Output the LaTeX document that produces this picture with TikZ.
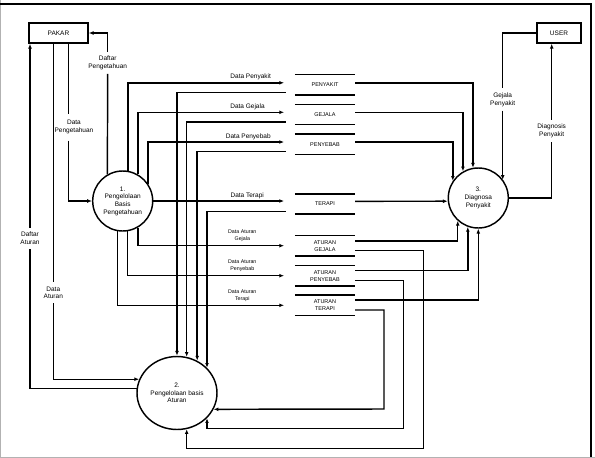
\documentclass[tikz,border=0pt]{standalone}
\usepackage{fontspec}
\setmainfont{Liberation Sans}
\usetikzlibrary{arrows.meta}
\usetikzlibrary{shapes.geometric,positioning,calc}
\tikzset{>={Latex[length=4.8pt,width=3.8pt]},
  line/.style={line width=1.45pt},
  flow/.style={line width=1.45pt,->},
  proc/.style={draw,circle,line width=1.45pt,minimum size=60pt,inner sep=0pt,align=center},
  entity/.style={draw,rectangle,line width=1.45pt,minimum height=20pt,inner sep=0pt},
  store/.style={minimum width=60pt,minimum height=20pt,inner sep=0pt,align=center,
    font=\fontsize{5.5}{7}\selectfont},
  lbl/.style={align=center,inner xsep=1pt,inner ysep=4pt},
  smalllbl/.style={align=center,inner sep=0pt,font=\fontsize{5.3}{6.7}\selectfont}}

\begin{document}
\begin{tikzpicture}[x=1pt,y=-1pt,every node/.style={font=\fontsize{6.5}{7.7}\selectfont}]
  \useasboundingbox (0,0) rectangle (595,458);

  % frame
  \draw [draw=black!30,line width=1pt] (0.5,0) -- (0.5,457) -- (595,457);
  \draw [line] (0,4) -- (591,4) -- (591,457);

  % entities and processes
  \node[entity,minimum width=59pt] (pakar) at (58.5,33) {PAKAR};
  \node[entity,minimum width=44pt] (user) at (559,33) {USER};

  \node[proc] (c1) at (122.7,201) {1.\\Pengelolaan\\Basis\\Pengetahuan};
  \node[proc,ellipse,minimum width=80pt,minimum height=73pt] (c2) at (177,393) {2.\\Pengelolaan basis\\Aturan};
  \node[proc] (c3) at (478.3,198) {3.\\Diagnosa\\Penyakit};

  % data stores
  \node[store] (sPenyakit) at (325,84.8) {PENYAKIT};
  \node[store] (sGejala) at (325,114.5) {GEJALA};
  \node[store] (sPenyebab) at (325,144.3) {PENYEBAB};
  \node[store] (sTerapi) at (325,204) {TERAPI};
  \node[store] (sAtGejala) at (325,245.7) {ATURAN\\GEJALA};
  \node[store] (sAtPenyebab) at (325,275.7) {ATURAN\\PENYEBAB};
  \node[store] (sAtTerapi) at (325,305.3) {ATURAN\\TERAPI};
  \foreach \s in {sPenyakit,sGejala,sPenyebab,sTerapi,sAtGejala,sAtPenyebab,sAtTerapi}
    \draw [line] (\s.north west) -- (\s.north east) (\s.south west) -- (\s.south east);

  % PAKAR side
  \coordinate (xDP) at (68.3,0);
  \node[lbl,inner ysep=6.5pt] (lDataPeng) at (74,127.2) {Data\\Pengetahuan};
  \draw [line] (pakar.south -| xDP) -- (lDataPeng.north -| xDP);
  \draw [flow] (lDataPeng.south -| xDP) |- (c1.west);

  \node[lbl] (lDafPeng) at (107.7,62.8) {Daftar\\Pengetahuan};
  \draw [line] (c1.120) -- (lDafPeng.south);
  \draw [flow] (lDafPeng.north) |- (pakar.east);

  \node[lbl] (lDafAt) at (30,238.3) {Daftar\\Aturan};
  \draw [line] (c2.174) -| (lDafAt.south);
  \draw [flow] (lDafAt.north) -- (lDafAt.north |- pakar.south);

  \node[lbl] (lDataAt) at (53.3,292.8) {Data\\Aturan};
  \draw [line] (pakar.south -| lDataAt) -- (lDataAt.north);
  \draw [flow] (lDataAt.south) |- (c2.160);

  % USER side
  \node[lbl] (lGejP) at (502.7,99.5) {Gejala\\Penyakit};
  \draw [line] (user.west) -| (lGejP.north);
  \draw [flow] (lGejP.south) -- (lGejP.south |- c3.36);

  \node[lbl] (lDiag) at (551.7,130.7) {Diagnosis\\Penyakit};
  \draw [line] (c3.east) -| (lDiag.south);
  \draw [flow] (lDiag.north) -- (lDiag.north |- user.south);

  % process 1 -> stores
  \node (lPenyakit) at (250.7,76.7) {Data Penyakit};
  \node (lGejala) at (247.5,106.7) {Data Gejala};
  \node (lPenyebab) at (248.3,137.3) {Data Penyebab};
  \node (lTerapi) at (247.2,195.7) {Data Terapi};
  \node[smalllbl] (lAtGejala) at (242.3,235.7) {Data Aturan\\Gejala};
  \node[smalllbl] (lAtPenyebab) at (242.3,266) {Data Aturan\\Penyebab};
  \node[smalllbl] (lAtTerapi) at (242.3,295.7) {Data Aturan\\Terapi};

  \draw [flow] (c1.80) |- ([shift={(-10.7,-2)}]sPenyakit.west);
  \draw [flow] (c1.60) |- ([shift={(-10.7,-2.2)}]sGejala.west);
  \draw [flow] (c1.34) |- ([shift={(-10.7,-2.3)}]sPenyebab.west);
  \draw [flow] (c1.east) -- ([xshift=-10.7pt]sTerapi.west |- c1.east);
  \draw [flow] (c1.-60) |- ([xshift=-10.7pt]sAtGejala.west);
  \draw [flow] (c1.-81) |- ([xshift=-10.7pt]sAtPenyebab.west);
  \draw [flow] (c1.-100) |- ([xshift=-10.7pt]sAtTerapi.west);

  % stores -> process 2
  \draw [flow] ([shift={(-9,7.5)}]sPenyakit.west) -| (c2.north);
  \draw [flow] ([shift={(-9,7.5)}]sGejala.west) -| (c2.75);
  \draw [flow] ([shift={(-9,7.4)}]sPenyebab.west) -| (c2.58);
  \draw [flow] ([shift={(-9,7.3)}]sTerapi.west) -| (c2.40);

  \coordinate (bAG) at (423.3,448.3);
  \coordinate (bAP) at (403.7,428.7);
  \coordinate (bAT) at (384,409);
  \draw [flow] ([shift={(0,5)}]sAtGejala.east) -| (bAG) -| (c2.-75);
  \draw [flow] ([shift={(0,5)}]sAtPenyebab.east) -| (bAP) -| (c2.-40);
  \draw [flow] ([shift={(0,4.7)}]sAtTerapi.east) -| (bAT) -- (c2.-24);

  % stores -> process 3
  \draw [flow] ([shift={(0,-2)}]sPenyakit.east) -| (c3.100);
  \draw [flow] ([shift={(0,-2.2)}]sGejala.east) -| (c3.120);
  \draw [flow] ([shift={(0,-2.3)}]sPenyebab.east) -| (c3.146);
  \draw [flow] ([shift={(0,-2.7)}]sTerapi.east) -- (c3.186);
  \draw [flow] ([shift={(0,-4.7)}]sAtGejala.east) -| (c3.-132);
  \draw [flow] ([shift={(0,-5)}]sAtPenyebab.east) -| (c3.-110);
  \draw [flow] ([shift={(0,-5.3)}]sAtTerapi.east) -| (c3.south);

\end{tikzpicture}
\end{document}
